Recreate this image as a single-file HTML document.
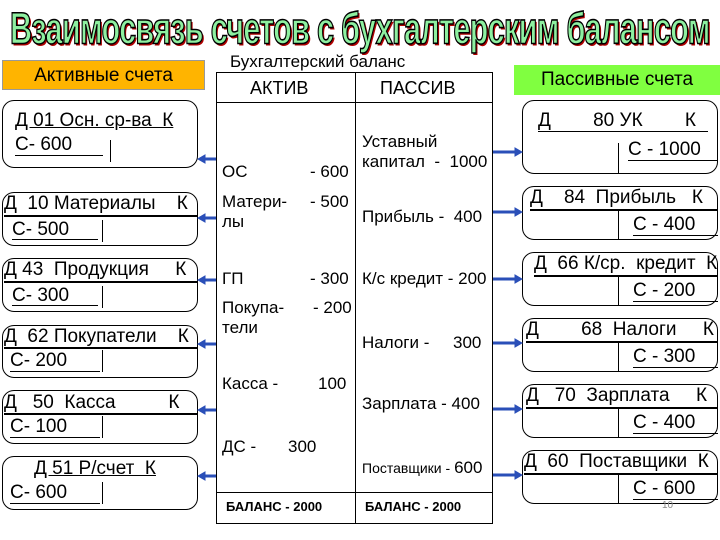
<!DOCTYPE html>
<html><head><meta charset="utf-8"><style>
body{margin:0;width:720px;height:540px;background:#fff;position:relative;overflow:hidden;font-family:"Liberation Sans","DejaVu Sans",sans-serif;color:#000}
.a{position:absolute;white-space:pre}
.box{position:absolute;border:1px solid #000;border-radius:12px;box-sizing:border-box}
.u{text-decoration:underline}
.hl{position:absolute;height:2px;background:#000}
.vl{position:absolute;width:1px;background:#000}
.t{font-size:17px}
.b{font-size:19px}
</style></head><body>
<div style="position:absolute;left:10px;top:10px;width:1000px;font-family:'Liberation Sans',sans-serif;font-weight:bold;font-size:42px;line-height:36px;color:#8ef0a0;-webkit-text-stroke:1.5px #000;text-shadow:2px 2px 0 #b00000;transform:scaleX(0.73) scaleY(1.05);transform-origin:left top;letter-spacing:-1px;white-space:nowrap">Взаимосвязь счетов с бухгалтерским балансом</div>

<div class="a" style="left:2px;top:60px;width:203px;height:30px;background:#ffb400;border:1px solid #999;box-sizing:border-box;font-size:19px;line-height:30px;text-align:center">Активные счета</div>
<div class="a" style="left:514px;top:65px;width:206px;height:30px;background:#80ff40;font-size:19px;line-height:30px;text-align:center">Пассивные счета</div>

<div class="a" style="left:230px;top:52px;font-size:17px">Бухгалтерский баланс</div>
<div class="a" style="left:216px;top:72px;width:277px;height:452px;border:1px solid #000;box-sizing:border-box"></div>
<div class="vl" style="left:355px;top:72px;height:452px"></div>
<div class="hl" style="left:216px;top:102px;width:277px;height:1px"></div>
<div class="hl" style="left:216px;top:492px;width:277px;height:1px"></div>
<div class="a" style="left:250px;top:78px;font-size:18px">АКТИВ</div>
<div class="a" style="left:380px;top:78px;font-size:18px">ПАССИВ</div>
<div class="a" style="left:226px;top:499px;font-size:13px;font-weight:bold">БАЛАНС - 2000</div>
<div class="a" style="left:365px;top:499px;font-size:13px;font-weight:bold">БАЛАНС - 2000</div>

<div class="a t" style="left:222px;top:162px">ОС</div><div class="a t" style="left:310px;top:162px">- 600</div>
<div class="a t" style="left:222px;top:192px">Матери-</div><div class="a t" style="left:310px;top:192px">- 500</div>
<div class="a t" style="left:222px;top:212px">лы</div>
<div class="a t" style="left:222px;top:269px">ГП</div><div class="a t" style="left:310px;top:269px">- 300</div>
<div class="a t" style="left:222px;top:298px">Покупа-</div><div class="a t" style="left:313px;top:298px">- 200</div>
<div class="a t" style="left:222px;top:318px">тели</div>
<div class="a t" style="left:222px;top:374px">Касса -</div><div class="a t" style="left:318px;top:374px">100</div>
<div class="a t" style="left:222px;top:437px">ДС -</div><div class="a t" style="left:288px;top:437px">300</div>

<div class="a t" style="left:362px;top:132px">Уставный</div>
<div class="a t" style="left:362px;top:152px">капитал  -  1000</div>
<div class="a t" style="left:362px;top:207px">Прибыль -  400</div>
<div class="a t" style="left:362px;top:269px">К/с кредит - 200</div>
<div class="a t" style="left:362px;top:333px">Налоги -     300</div>
<div class="a t" style="left:362px;top:394px">Зарплата - 400</div>
<div class="a" style="left:362px;top:458px;font-size:14px">Поставщики - <span style="font-size:17px">600</span></div>

<div class="box" style="left:2px;top:100px;width:196px;height:68px"></div>
<div class="a u b" style="left:15px;top:110px">Д 01 Осн. ср-ва  К</div>
<div class="a b" style="left:15px;top:134px">С- 600</div>
<div class="hl" style="left:15px;top:155px;width:88px;height:1px"></div>
<div class="vl" style="left:110px;top:140px;height:22px"></div>

<div class="box" style="left:2px;top:192px;width:196px;height:54px"></div>
<div class="a b" style="left:4px;top:193px">Д  10 Материалы    К</div>
<div class="hl" style="left:4px;top:215px;width:194px"></div>
<div class="a b" style="left:12px;top:219px">С- 500</div>
<div class="hl" style="left:12px;top:239px;width:86px;height:1px"></div>
<div class="vl" style="left:102px;top:220px;height:22px"></div>

<div class="box" style="left:2px;top:258px;width:196px;height:54px"></div>
<div class="a b" style="left:4px;top:259px">Д 43  Продукция     К</div>
<div class="hl" style="left:4px;top:281px;width:194px"></div>
<div class="a b" style="left:12px;top:285px">С- 300</div>
<div class="hl" style="left:12px;top:305px;width:86px;height:1px"></div>
<div class="vl" style="left:102px;top:286px;height:22px"></div>

<div class="box" style="left:2px;top:325px;width:196px;height:53px"></div>
<div class="a b" style="left:4px;top:326px">Д  62 Покупатели    К</div>
<div class="hl" style="left:4px;top:347px;width:194px"></div>
<div class="a b" style="left:10px;top:350px">С- 200</div>
<div class="hl" style="left:10px;top:371px;width:90px;height:1px"></div>
<div class="vl" style="left:102px;top:350px;height:22px"></div>

<div class="box" style="left:2px;top:390px;width:196px;height:54px"></div>
<div class="a b" style="left:4px;top:392px">Д   50  Касса          К</div>
<div class="hl" style="left:4px;top:413px;width:194px"></div>
<div class="a b" style="left:10px;top:416px">С- 100</div>
<div class="hl" style="left:10px;top:437px;width:90px;height:1px"></div>
<div class="vl" style="left:102px;top:416px;height:22px"></div>

<div class="box" style="left:2px;top:456px;width:196px;height:54px"></div>
<div class="a u b" style="left:34px;top:458px">Д 51 Р/счет  К</div>
<div class="a b" style="left:10px;top:482px">С- 600</div>
<div class="hl" style="left:10px;top:503px;width:90px;height:1px"></div>
<div class="vl" style="left:102px;top:482px;height:22px"></div>

<div class="box" style="left:522px;top:100px;width:196px;height:74px"></div>
<div class="a b" style="left:538px;top:110px">Д        80 УК        К</div>
<div class="hl" style="left:538px;top:131px;width:170px;height:1px"></div>
<div class="vl" style="left:618px;top:143px;height:30px"></div>
<div class="a b" style="left:628px;top:139px">С - 1000</div>
<div class="hl" style="left:628px;top:160px;width:90px;height:1px"></div>

<div class="box" style="left:522px;top:186px;width:196px;height:54px"></div>
<div class="a b" style="left:530px;top:187px">Д    84  Прибыль   К</div>
<div class="hl" style="left:530px;top:209px;width:188px"></div>
<div class="vl" style="left:618px;top:210px;height:30px"></div>
<div class="a b" style="left:633px;top:214px">С - 400</div>
<div class="hl" style="left:633px;top:235px;width:85px;height:1px"></div>

<div class="box" style="left:522px;top:252px;width:196px;height:54px"></div>
<div class="a b" style="left:534px;top:253px">Д  66 К/ср.  кредит  К</div>
<div class="hl" style="left:534px;top:275px;width:184px"></div>
<div class="vl" style="left:618px;top:276px;height:30px"></div>
<div class="a b" style="left:633px;top:280px">С - 200</div>
<div class="hl" style="left:633px;top:301px;width:85px;height:1px"></div>

<div class="box" style="left:522px;top:318px;width:196px;height:54px"></div>
<div class="a b" style="left:526px;top:319px">Д        68  Налоги     К</div>
<div class="hl" style="left:526px;top:341px;width:192px"></div>
<div class="vl" style="left:618px;top:342px;height:30px"></div>
<div class="a b" style="left:633px;top:346px">С - 300</div>
<div class="hl" style="left:633px;top:367px;width:85px;height:1px"></div>

<div class="box" style="left:522px;top:384px;width:196px;height:54px"></div>
<div class="a b" style="left:526px;top:385px">Д   70  Зарплата     К</div>
<div class="hl" style="left:526px;top:407px;width:192px"></div>
<div class="vl" style="left:618px;top:408px;height:30px"></div>
<div class="a b" style="left:633px;top:412px">С - 400</div>
<div class="hl" style="left:633px;top:433px;width:85px;height:1px"></div>

<div class="box" style="left:522px;top:450px;width:196px;height:54px"></div>
<div class="a b" style="left:524px;top:451px">Д  60  Поставщики  К</div>
<div class="hl" style="left:524px;top:473px;width:194px"></div>
<div class="vl" style="left:618px;top:474px;height:30px"></div>
<div class="a b" style="left:633px;top:478px">С - 600</div>
<div class="hl" style="left:633px;top:499px;width:85px;height:1px"></div>

<svg class="a" style="left:0;top:0" width="720" height="540">
<g fill="#2a4fb8" stroke="#2a4fb8">
<line x1="216" y1="159" x2="204" y2="159" stroke-width="3"/><polygon points="198,159 205,155 205,163"/>
<line x1="216" y1="218" x2="204" y2="218" stroke-width="3"/><polygon points="198,218 205,214 205,222"/>
<line x1="216" y1="280" x2="204" y2="280" stroke-width="3"/><polygon points="198,280 205,276 205,284"/>
<line x1="216" y1="344" x2="204" y2="344" stroke-width="3"/><polygon points="198,344 205,340 205,348"/>
<line x1="216" y1="410" x2="204" y2="410" stroke-width="3"/><polygon points="198,410 205,406 205,414"/>
<line x1="216" y1="476" x2="204" y2="476" stroke-width="3"/><polygon points="198,476 205,472 205,480"/>
<line x1="493" y1="152" x2="516" y2="152" stroke-width="3"/><polygon points="522,152 515,148 515,156"/>
<line x1="493" y1="212" x2="516" y2="212" stroke-width="3"/><polygon points="522,212 515,208 515,216"/>
<line x1="493" y1="279" x2="516" y2="279" stroke-width="3"/><polygon points="522,279 515,275 515,283"/>
<line x1="493" y1="343" x2="516" y2="343" stroke-width="3"/><polygon points="522,343 515,339 515,347"/>
<line x1="493" y1="409" x2="516" y2="409" stroke-width="3"/><polygon points="522,409 515,405 515,413"/>
<line x1="493" y1="475" x2="516" y2="475" stroke-width="3"/><polygon points="522,475 515,471 515,479"/>
</g></svg>
<div class="a" style="left:662px;top:500px;font-size:10px;color:#888">10</div>
</body></html>
